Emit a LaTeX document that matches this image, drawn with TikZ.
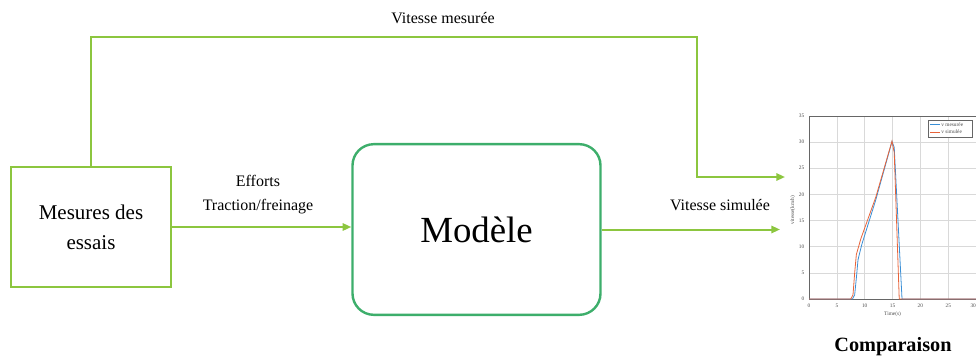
\documentclass[tikz,border=0pt]{standalone}
\usepackage{fontspec}
\setmainfont{Liberation Serif}
\usetikzlibrary{arrows.meta}
\definecolor{vertclair}{HTML}{8CC63F}
\definecolor{vertmod}{HTML}{3DAE6B}
\definecolor{bleuc}{HTML}{3A8FD6}
\definecolor{orangec}{HTML}{E8643A}
\tikzset{
  fil/.style={vertclair, line width=1.5pt, -{Triangle[length=6.5pt,width=5.5pt]}},
  boite/.style={draw=vertclair, line width=2pt, minimum width=120pt, minimum height=90pt,
    align=center, font=\fontsize{15.75}{22.5}\selectfont},
  modele/.style={draw=vertmod, line width=1.8pt, rounded corners=16pt, minimum width=186pt,
    minimum height=128pt, font=\fontsize{27.6}{33}\selectfont},
  etiq/.style={align=center, font=\fontsize{12}{18}\selectfont},
  graduation/.style={font=\fontsize{4}{4.5}\selectfont, text=black!70}
}
\begin{document}
\begin{tikzpicture}[x=0.75pt, y=-0.75pt]
  \useasboundingbox (0,0) rectangle (976,361);
  % blocs
  \node[boite] (mes) at (91,227) {Mesures des\\essais};
  \node[modele] (mod) at (476.5,229.5) {Modèle};
  % entrees du graphe
  \coordinate (coin) at (697,37);
  \coordinate (mesin) at (785,177);
  \coordinate (simin) at (780,230);
  \draw[fil] (mes.north) |- (coin) |- (mesin);
  \node[etiq] (lmes) at (443,18) {Vitesse mesurée};
  \draw[fil] (mes.east) -- (mes.east -| mod.west);
  \node[etiq] (leff) at (258,195) {Efforts\\Traction/freinage};
  \draw[fil] (mod.east) -- (mod.east -| simin);
  \node[etiq] (lsim) at (720,205) {Vitesse simulée};
  % graphe de comparaison
  \begin{scope}[shift={(809,299)}, x=4.1775pt, y=3.9225pt]
    \foreach \t in {5,10,...,25} \draw[black!15, line width=0.4pt] (\t,0) -- (\t,35);
    \foreach \v in {5,10,...,30} \draw[black!15, line width=0.4pt] (0,\v) -- (30,\v);
    \draw[black!60, line width=0.4pt] (0,0) rectangle (30,35);
    \foreach \t in {0,5,...,25} \node[graduation, below] at (\t,0) {\t};
    \node[graduation, below left, inner xsep=0pt] at (30,0) {30};
    \foreach \v in {0,5,...,35} \node[graduation, left] at (0,\v) {\v};
    \node[graduation, below] at (15,-1.6) {Time(s)};
    \node[graduation, rotate=90] at (-2.9,17) {vitesse(km/h)};
    % courbes
    \draw[bleuc, line width=0.6pt] (0,0) -- (7.8,0) -- (8.2,0.8) -- (8.5,4) -- (8.8,7.5)
      -- (9.5,10.5) -- (12,19) -- (14.9,30.1) -- (15.3,29) -- (16.7,0) -- (30,0);
    \draw[orangec, line width=0.6pt] (0,0) -- (7.5,0) -- (7.9,0.8) -- (8.2,5) -- (8.5,8.5)
      -- (9.3,11.5) -- (12,19.5) -- (14.9,30.2) -- (15.3,28) -- (16.2,0) -- (30,0);
    % legende
    \draw[black!60, fill=white, line width=0.3pt] (21.4,34.2) rectangle (29.3,31);
    \draw[bleuc, line width=0.6pt] (21.8,33.3) -- (23.6,33.3);
    \draw[orangec, line width=0.6pt] (21.8,31.9) -- (23.6,31.9);
    \node[graduation, right, inner sep=0.5pt] at (23.6,33.3) {v mesurée};
    \node[graduation, right, inner sep=0.5pt] at (23.6,31.9) {v simulée};
  \end{scope}
  \node[font=\fontsize{15.2}{18}\selectfont\bfseries] (cmp) at (893,347) {Comparaison};
\end{tikzpicture}
\end{document}
